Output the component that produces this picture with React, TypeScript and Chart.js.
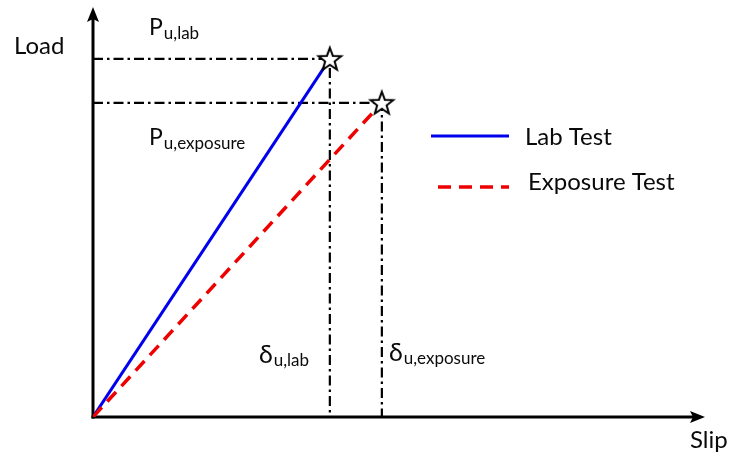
import React, { useEffect, useRef } from "react";
import { Chart, registerables } from "chart.js";

Chart.register(...registerables);

// Schematic values (axis units 0..100)
const seriesLabels = ["Lab Test", "Exposure Test"];
const ultimateSlip = [38.7, 47.2]; // δu,lab , δu,exposure
const ultimateLoad = [88.0, 77.2]; // Pu,lab , Pu,exposure
const axisTitles = ["Load", "Slip"];
const loadLabels = [
  { main: "P", sub: "u,lab" },
  { main: "P", sub: "u,exposure" },
];
const slipLabels = [
  { main: "δ", sub: "u,lab" },
  { main: "δ", sub: "u,exposure" },
];

const FONT = "Lato, 'Open Sans', sans-serif";
const TEXT = "#0a0a0a";

function makeStar(): HTMLCanvasElement {
  const c = document.createElement("canvas");
  const s = 28;
  c.width = s;
  c.height = s;
  const g = c.getContext("2d")!;
  const cx = s / 2;
  const cy = s / 2 + 1;
  const ro = 12;
  const ri = 5;
  g.beginPath();
  for (let i = 0; i < 10; i++) {
    const r = i % 2 === 0 ? ro : ri;
    const a = -Math.PI / 2 + (i * Math.PI) / 5;
    const x = cx + r * Math.cos(a);
    const y = cy + r * Math.sin(a);
    if (i === 0) g.moveTo(x, y);
    else g.lineTo(x, y);
  }
  g.closePath();
  g.fillStyle = "#ffffff";
  g.fill();
  g.lineWidth = 2;
  g.lineJoin = "miter";
  g.strokeStyle = "#000000";
  g.stroke();
  return c;
}

function drawSub(
  ctx: CanvasRenderingContext2D,
  x: number,
  y: number,
  main: string,
  sub: string,
  mainSize: number,
  subSize: number,
  subDrop: number
) {
  ctx.font = `${mainSize}px ${FONT}`;
  ctx.fillText(main, x, y);
  const w = ctx.measureText(main).width;
  ctx.font = `${subSize}px ${FONT}`;
  ctx.fillText(sub, x + w + 1, y + subDrop);
}

const overlayPlugin = {
  id: "schematicOverlay",
  beforeDatasetsDraw(chart: any) {
    const { ctx, chartArea } = chart;
    const x0 = chartArea.left;
    const y0 = chartArea.bottom;
    ctx.save();
    ctx.strokeStyle = "#000";
    ctx.fillStyle = "#000";
    ctx.lineWidth = 3;
    // y axis
    ctx.beginPath();
    ctx.moveTo(x0, y0 + 1.5);
    ctx.lineTo(x0, chartArea.top + 8);
    ctx.stroke();
    // x axis
    ctx.beginPath();
    ctx.moveTo(x0 - 1.5, y0);
    ctx.lineTo(chartArea.right - 8, y0);
    ctx.stroke();
    // arrow heads
    const tipY = chartArea.top - 3;
    ctx.beginPath();
    ctx.moveTo(x0, tipY);
    ctx.lineTo(x0 - 6, tipY + 15);
    ctx.lineTo(x0, tipY + 12);
    ctx.lineTo(x0 + 6, tipY + 15);
    ctx.closePath();
    ctx.fill();
    const tipX = chartArea.right;
    ctx.beginPath();
    ctx.moveTo(tipX, y0);
    ctx.lineTo(tipX - 15, y0 - 6);
    ctx.lineTo(tipX - 12, y0);
    ctx.lineTo(tipX - 15, y0 + 6);
    ctx.closePath();
    ctx.fill();
    ctx.restore();
  },
  afterDraw(chart: any) {
    const { ctx } = chart;
    ctx.save();
    ctx.fillStyle = TEXT;
    ctx.textBaseline = "alphabetic";
    ctx.textAlign = "left";
    // axis titles
    ctx.font = `24px ${FONT}`;
    ctx.fillText(axisTitles[0], 14, 54);
    ctx.fillText(axisTitles[1], 690, 448);
    // load labels
    drawSub(ctx, 149, 35, loadLabels[0].main, loadLabels[0].sub, 23, 17, 4);
    drawSub(ctx, 149, 145, loadLabels[1].main, loadLabels[1].sub, 23, 17, 4);
    // slip labels
    drawSub(ctx, 259, 363, slipLabels[0].main, slipLabels[0].sub, 25, 17, 3);
    drawSub(ctx, 389, 361, slipLabels[1].main, slipLabels[1].sub, 25, 17, 3);
    // legend
    const ds = chart.data.datasets;
    const legendRows = [
      { idx: 2, y: 136, tx: 525, ty: 145 },
      { idx: 3, y: 187, tx: 528, ty: 190 },
    ];
    legendRows.forEach((r) => {
      const d = ds[r.idx];
      ctx.save();
      ctx.strokeStyle = d.borderColor;
      ctx.lineWidth = d.borderWidth;
      ctx.setLineDash(d.borderDash || []);
      ctx.lineDashOffset = d.borderDash ? 14 : 0;
      ctx.beginPath();
      ctx.moveTo(431, r.y);
      ctx.lineTo(509, r.y);
      ctx.stroke();
      ctx.restore();
      ctx.font = `24px ${FONT}`;
      ctx.fillStyle = TEXT;
      ctx.fillText(d.label, r.tx, r.ty);
    });
    ctx.restore();
  },
};

export default function App() {
  const ref = useRef<HTMLCanvasElement | null>(null);
  useEffect(() => {
    document.body.style.margin = "0";
    const star = makeStar();
    const dashDot = [10, 4, 2.5, 4];
    const refLine = (i: number) => ({
      label: "ref" + i,
      data: [
        { x: 0, y: ultimateLoad[i] },
        { x: ultimateSlip[i], y: ultimateLoad[i] },
        { x: ultimateSlip[i], y: 0 },
      ],
      showLine: true,
      borderColor: "#000",
      borderWidth: 2.2,
      borderDash: dashDot,
      pointRadius: 0,
      order: 3,
    });
    const chart = new Chart(ref.current!, {
      type: "scatter",
      data: {
        datasets: [
          refLine(0) as any,
          refLine(1) as any,
          {
            label: seriesLabels[0],
            data: [
              { x: 0, y: 0 },
              { x: ultimateSlip[0], y: ultimateLoad[0] },
            ],
            showLine: true,
            borderColor: "#0000ee",
            borderWidth: 3,
            pointRadius: 0,
            order: 2,
          },
          {
            label: seriesLabels[1],
            data: [
              { x: 0, y: 0 },
              { x: ultimateSlip[1], y: ultimateLoad[1] },
            ],
            showLine: true,
            borderColor: "#ee0000",
            borderWidth: 3.5,
            borderDash: [13, 8],
            pointRadius: 0,
            order: 1,
          },
          {
            label: "ultimate",
            data: [
              { x: ultimateSlip[0], y: ultimateLoad[0] },
              { x: ultimateSlip[1], y: ultimateLoad[1] },
            ],
            showLine: false,
            pointStyle: star as any,
            pointRadius: 13,
            order: 0,
          },
        ],
      },
      options: {
        animation: false,
        responsive: true,
        maintainAspectRatio: false,
        layout: { autoPadding: false, padding: { left: 93, right: 25, top: 10, bottom: 36 } },
        scales: {
          x: { type: "linear", min: 0, max: 100, display: false },
          y: { type: "linear", min: 0, max: 100, display: false },
        },
        plugins: {
          legend: { display: false },
          tooltip: { enabled: false },
        },
        events: [],
      },
      plugins: [overlayPlugin],
    });
    return () => chart.destroy();
  }, []);
  return (
    <div style={{ position: "fixed", left: 0, top: 0, width: 730, height: 453, background: "#fff" }}>
      <canvas ref={ref} />
    </div>
  );
}
